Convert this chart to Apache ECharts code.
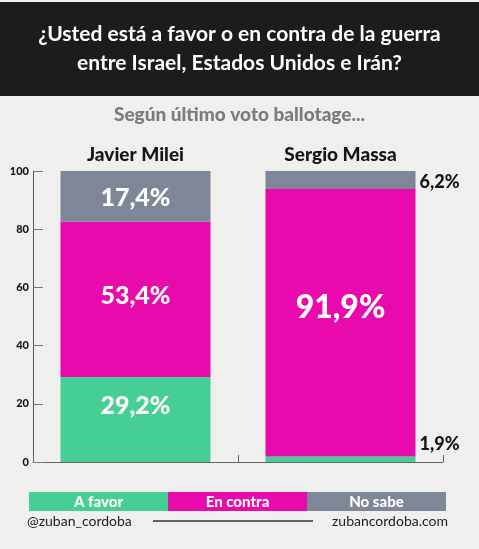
<!DOCTYPE html>
<html><head><meta charset="utf-8">
<script src="https://cdn.jsdelivr.net/npm/echarts@6/dist/echarts.min.js"></script>
<style>html,body{margin:0;padding:0;background:#efefed;}#c{width:479px;height:549px;}</style>
</head><body><div id="c"></div>
<script>
const title = ['¿Usted está a favor o en contra de la guerra', 'entre Israel, Estados Unidos e Irán?'];
const subtitle = 'Según último voto ballotage...';
const categories = ['Javier Milei', 'Sergio Massa'];
const seriesNames = ['A favor', 'En contra', 'No sabe'];
const aFavor = [29.2, 1.9];
const enContra = [53.4, 91.9];
const noSabe = [17.4, 6.2];
const yTicks = [0, 20, 40, 60, 80, 100];
const colors = ['#46cf94', '#e90aad', '#7e8698'];
const FONT = 'Lato';

function fmt(v){ return v.toFixed(1).replace('.', ',') + '%'; }

const chart = echarts.init(document.getElementById('c'), null, {renderer:'canvas'});

function insideLabel(size, off){
  return {show:true, position:'inside', color:'#fff', fontFamily:FONT, fontWeight:900, fontSize:size, offset:[0,off], formatter:p=>fmt(p.value)};
}
function outsideLabel(off){
  return {show:true, position:'right', distance:4, color:'#151515', fontFamily:FONT, fontWeight:900, fontSize:18, offset:[0,off], formatter:p=>fmt(p.value)};
}

const favorData = aFavor.map((v,i)=>({value:v, label: i===0 ? insideLabel(25,-14) : outsideLabel(-15)}));
const contraData = enContra.map((v,i)=>({value:v, label: i===0 ? insideLabel(25,-3) : insideLabel(32,-15)}));
const nsData = noSabe.map((v,i)=>({value:v, label: i===0 ? insideLabel(25,2) : outsideLabel(2)}));

const legW = 139, legX = 29;
const legendGraphics = [];
seriesNames.forEach((n,i)=>{
  legendGraphics.push({type:'rect', left:legX+i*legW, top:492, shape:{width:legW, height:19}, style:{fill:colors[i]}});
  legendGraphics.push({type:'text', x:legX+i*legW+legW/2, y:502, style:{text:n, fill:'#fff', font:'900 15px '+FONT, textAlign:'center', textVerticalAlign:'middle'}});
});

chart.setOption({
  backgroundColor:'#efefed',
  animation:false,
  color: colors,
  grid:{left:33, right:36, top:171, bottom:87, containLabel:false},
  xAxis:[
    {type:'category', data:categories, position:'bottom',
     axisLine:{show:true, lineStyle:{color:'#666', width:1}},
     axisTick:{show:true, inside:true, length:7, lineStyle:{color:'#666'}},
     axisLabel:{show:false}},
    {type:'category', data:categories, position:'top',
     axisLine:{show:false}, axisTick:{show:false},
     axisLabel:{show:true, margin:7, color:'#151515', fontFamily:FONT, fontWeight:900, fontSize:19}}
  ],
  yAxis:{type:'value', min:0, max:100, interval:20,
    axisLine:{show:true, lineStyle:{color:'#555', width:1}},
    axisTick:{show:true, inside:true, length:10, lineStyle:{color:'#777'}},
    splitLine:{show:false},
    axisLabel:{margin:4, color:'#151515', fontFamily:FONT, fontWeight:900, fontSize:11,
      formatter:v=> yTicks.includes(v) ? String(v) : ''}},
  series:[
    {name:seriesNames[0], type:'bar', stack:'s', barWidth:150, data:favorData, itemStyle:{color:colors[0]}},
    {name:seriesNames[1], type:'bar', stack:'s', barWidth:150, data:contraData, itemStyle:{color:colors[1]}},
    {name:seriesNames[2], type:'bar', stack:'s', barWidth:150, data:nsData, itemStyle:{color:colors[2]}}
  ],
  graphic:[
    {type:'rect', left:0, top:2, shape:{width:479, height:94}, style:{fill:'#1c1c1c'}, z:0},
    {type:'text', x:239.5, y:34, style:{text:title[0], fill:'#fff', font:'bold 21px '+FONT, textAlign:'center', textVerticalAlign:'middle'}},
    {type:'text', x:239.5, y:63, style:{text:title[1], fill:'#fff', font:'bold 21px '+FONT, textAlign:'center', textVerticalAlign:'middle'}},
    {type:'text', x:239.5, y:115, style:{text:subtitle, fill:'#7b7b7b', font:'900 19px '+FONT, textAlign:'center', textVerticalAlign:'middle'}},
    ...legendGraphics,
    {type:'text', x:27, y:521, style:{text:'@zuban_cordoba', fill:'#222', font:'14px '+FONT, textAlign:'left', textVerticalAlign:'middle'}},
    {type:'text', x:448, y:521, style:{text:'zubancordoba.com', fill:'#222', font:'14px '+FONT, textAlign:'right', textVerticalAlign:'middle'}},
    {type:'line', shape:{x1:153, y1:521, x2:313, y2:521}, style:{stroke:'#333', lineWidth:1.5}}
  ]
});
</script></body></html>
